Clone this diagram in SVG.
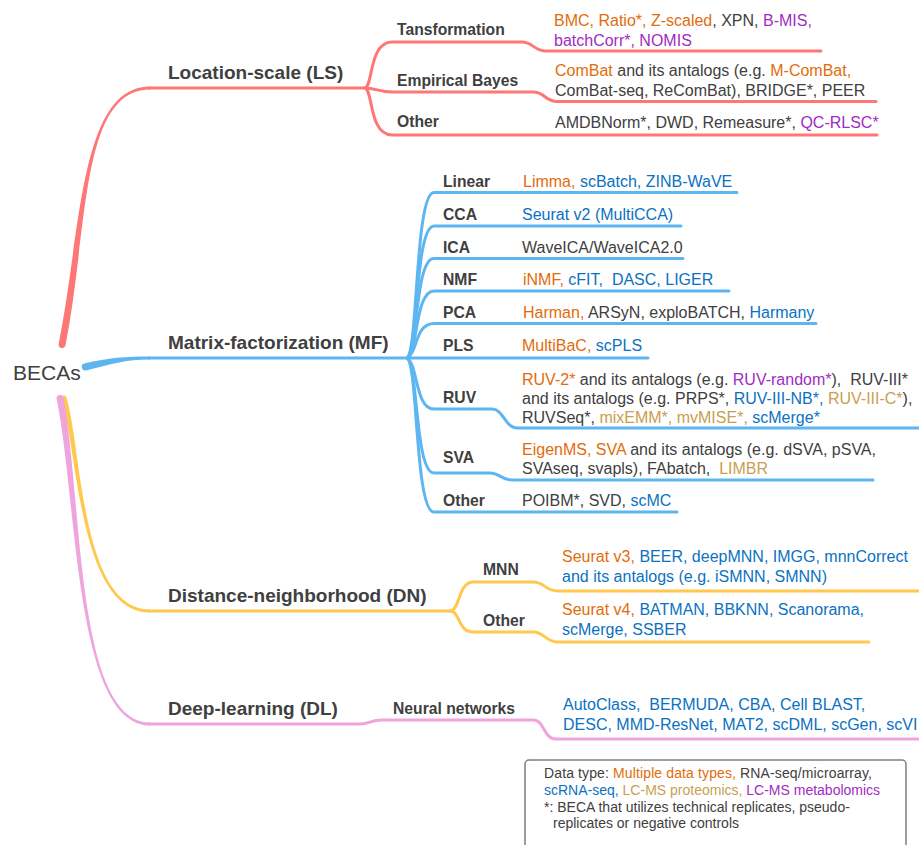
<svg xmlns="http://www.w3.org/2000/svg" width="919" height="845" viewBox="0 0 919 845">
<style>
text{font-family:"Liberation Sans",Arial,sans-serif;fill:#404040}
.main{font-size:19px;font-weight:bold}
.sub{font-size:15.7px;font-weight:bold}
.t{font-size:16px}
.lg{font-size:14px}
.o{fill:#E36C0A}.p{fill:#A02CC2}.b{fill:#0B72C2}.g{fill:#C9A04F}
.ls{stroke:#FF7676}.mf{stroke:#5DB6F1}.dn{stroke:#FFC84E}.dl{stroke:#EFA4DE}
.fls{fill:#FF7676}.fmf{fill:#5DB6F1}.fdn{fill:#FFC84E}.fdl{fill:#EFA4DE}
#connectors path.s{fill:none;stroke-width:3;stroke-linecap:round;stroke-linejoin:round}
</style>
<g id="connectors">
<path class="fls" d="M58.6,344.3 C81.6,229.3 80,86.5 150,86.5 L150,89.5 C80,89.5 88.4,230.7 65.4,345.7 A3.5,3.5 0 0 1 58.6,344.3 Z"/>
<path class="s ls" d="M149,88 L366,88"/>
<path class="s ls" d="M365,88 C373,86 369,42 392,42 L522,42 C533,42 534,51 546,51 L821,51"/>
<path class="s ls" d="M365,88 C375,88 380,92 392,92 L533,92 C545,92 545,101.5 557,101.5 L876,101.5"/>
<path class="s ls" d="M365,88 C373,90 369,135 392,135 L877,135"/>
<path class="fmf" d="M84.2,363.6 C109,357.6 125,356.5 150,356.5 L150,359.5 C125,359.5 111,364.4 85.8,370.4 A3.5,3.5 0 0 1 84.2,363.6 Z"/>
<path class="s mf" d="M149,358 L648,358"/>
<path class="s mf" d="M407,358 C418,352 415,192.5 434,192.5 L737,192.5"/>
<path class="s mf" d="M407,358 C418,352 415,226 434,226 L681,226"/>
<path class="s mf" d="M407,358 C418,352 415,258.5 434,258.5 L683,258.5"/>
<path class="s mf" d="M407,358 C418,352 415,291 434,291 L729,291"/>
<path class="s mf" d="M407,358 C418,352 415,323.5 434,323.5 L816,323.5"/>
<path class="s mf" d="M407,358 C418,364 415,409 434,409 L492,409 C504,409 504,428 518,428 L919,428"/>
<path class="s mf" d="M407,358 C418,364 415,473 434,473 L490,473 C500,473 501,480 512,480 L873,480"/>
<path class="s mf" d="M407,358 C418,364 415,512 434,512 L677,512"/>
<path class="fdn" d="M61.6,398.7 C78,450.5 79,612.5 150,612.5 L150,609.5 C81,609.5 82,449.5 66.4,397.3 A2.5,2.5 0 0 0 61.6,398.7 Z"/>
<path class="s dn" d="M149,611 L451,611"/>
<path class="s dn" d="M450,611 C460,611 458,582 473,582 L533,582 C545,582 545,591 558,591 L919,591"/>
<path class="s dn" d="M450,611 C460,611 458,632 473,632 L533,632 C545,632 545,642 558,642 L869,642"/>
<path class="fdl" d="M56.6,398.7 C77.5,500.3 74.5,725.5 150,725.5 L150,722.5 C75.5,722.5 82.5,499.7 63.4,397.3 A3.5,3.5 0 0 0 56.6,398.7 Z"/>
<path class="s dl" d="M149,724 L360,724 C370,724 370,720 382,720 L533,720 C545,720 543,739 556,739 L919,739"/>
</g>
<g id="root"><text x="13" y="380" style="font-size:21px">BECAs</text></g>
<g id="ls"><text class="main" x="168" y="79">Location-scale (LS)</text></g>
<g id="ls-transformation">
<text class="sub" x="397" y="35">Tansformation</text>
<text class="t" x="554" y="25.5" xml:space="preserve"><tspan class="o">BMC, Ratio*, Z-scaled</tspan>, XPN, <tspan class="p">B-MIS,</tspan></text>
<text class="t p" x="554" y="45.5">batchCorr*, NOMIS</text>
</g>
<g id="ls-eb">
<text class="sub" x="397" y="86">Empirical Bayes</text>
<text class="t" x="555" y="76" xml:space="preserve"><tspan class="o">ComBat</tspan> and its antalogs (e.g. <tspan class="o">M-ComBat,</tspan></text>
<text class="t" x="555" y="95.5">ComBat-seq, ReComBat), BRIDGE*, PEER</text>
</g>
<g id="ls-other">
<text class="sub" x="397" y="127">Other</text>
<text class="t" x="555" y="128" xml:space="preserve">AMDBNorm*, DWD, Remeasure*, <tspan class="p">QC-RLSC*</tspan></text>
</g>
<g id="mf"><text class="main" x="168" y="349">Matrix-factorization (MF)</text></g>
<g id="mf-linear">
<text class="sub" x="443" y="186.7">Linear</text>
<text class="t" x="523" y="186.7" xml:space="preserve"><tspan class="o">Limma,</tspan><tspan class="b"> scBatch, ZINB-WaVE</tspan></text>
</g>
<g id="mf-cca">
<text class="sub" x="443" y="220">CCA</text>
<text class="t b" x="522" y="220">Seurat v2 (MultiCCA)</text>
</g>
<g id="mf-ica">
<text class="sub" x="443" y="252.7">ICA</text>
<text class="t" x="522" y="252.7">WaveICA/WaveICA2.0</text>
</g>
<g id="mf-nmf">
<text class="sub" x="443" y="285">NMF</text>
<text class="t" x="523" y="285" xml:space="preserve"><tspan class="o">iNMF,</tspan><tspan class="b"> cFIT,  DASC, LIGER</tspan></text>
</g>
<g id="mf-pca">
<text class="sub" x="443" y="317.7">PCA</text>
<text class="t" x="523" y="317.7" xml:space="preserve"><tspan class="o">Harman,</tspan> ARSyN, exploBATCH, <tspan class="b">Harmany</tspan></text>
</g>
<g id="mf-pls">
<text class="sub" x="443" y="350.7">PLS</text>
<text class="t" x="522" y="350.7" xml:space="preserve"><tspan class="o">MultiBaC,</tspan><tspan class="b"> scPLS</tspan></text>
</g>
<g id="mf-ruv">
<text class="sub" x="443" y="403.3">RUV</text>
<text class="t" x="522" y="385" xml:space="preserve"><tspan class="o">RUV-2*</tspan> and its antalogs (e.g. <tspan class="p">RUV-random*</tspan>),  RUV-III*</text>
<text class="t" x="522" y="404" xml:space="preserve">and its antalogs (e.g. PRPS*, <tspan class="b">RUV-III-NB*,</tspan> <tspan class="g">RUV-III-C*</tspan>),</text>
<text class="t" x="522" y="423.3" xml:space="preserve">RUVSeq*, <tspan class="g">mixEMM*, mvMISE*,</tspan><tspan class="b"> scMerge*</tspan></text>
</g>
<g id="mf-sva">
<text class="sub" x="443" y="463.3">SVA</text>
<text class="t" x="522" y="455" xml:space="preserve"><tspan class="o">EigenMS, SVA</tspan> and its antalogs (e.g. dSVA, pSVA,</text>
<text class="t" x="522" y="474" xml:space="preserve">SVAseq, svapls), FAbatch,  <tspan class="g">LIMBR</tspan></text>
</g>
<g id="mf-other">
<text class="sub" x="443" y="506">Other</text>
<text class="t" x="522" y="506" xml:space="preserve">POIBM*, SVD, <tspan class="b">scMC</tspan></text>
</g>
<g id="dn"><text class="main" x="168" y="602">Distance-neighborhood (DN)</text></g>
<g id="dn-mnn">
<text class="sub" x="483" y="575">MNN</text>
<text class="t" x="562" y="562" xml:space="preserve"><tspan class="o">Seurat v3,</tspan><tspan class="b"> BEER, deepMNN, IMGG, mnnCorrect</tspan></text>
<text class="t b" x="562" y="581.5">and its antalogs (e.g. iSMNN, SMNN)</text>
</g>
<g id="dn-other">
<text class="sub" x="483" y="626">Other</text>
<text class="t" x="562" y="615" xml:space="preserve"><tspan class="o">Seurat v4,</tspan><tspan class="b"> BATMAN, BBKNN, Scanorama,</tspan></text>
<text class="t b" x="562" y="635">scMerge, SSBER</text>
</g>
<g id="dl"><text class="main" x="168" y="715">Deep-learning (DL)</text></g>
<g id="dl-nn">
<text class="sub" x="393" y="713.5">Neural networks</text>
<text class="t b" x="563" y="710" xml:space="preserve">AutoClass,  BERMUDA, CBA, Cell BLAST,</text>
<text class="t b" x="563" y="730">DESC, MMD-ResNet, MAT2, scDML, scGen, scVI</text>
</g>
<g id="legend">
<rect x="525" y="760" width="381" height="100" rx="4" fill="#fff" stroke="#7f7f7f" stroke-width="1.5"/>
<text class="lg" x="544" y="777.5" xml:space="preserve" textLength="328" lengthAdjust="spacing">Data type: <tspan class="o">Multiple data types,</tspan> RNA-seq/microarray,</text>
<text class="lg" x="544" y="795" xml:space="preserve"><tspan class="b">scRNA-seq,</tspan><tspan class="g"> LC-MS proteomics,</tspan><tspan class="p"> LC-MS metabolomics</tspan></text>
<text class="lg" x="544" y="811.5">*: BECA that utilizes technical replicates, pseudo-</text>
<text class="lg" x="553" y="828">replicates or negative controls</text>
</g>
</svg>
